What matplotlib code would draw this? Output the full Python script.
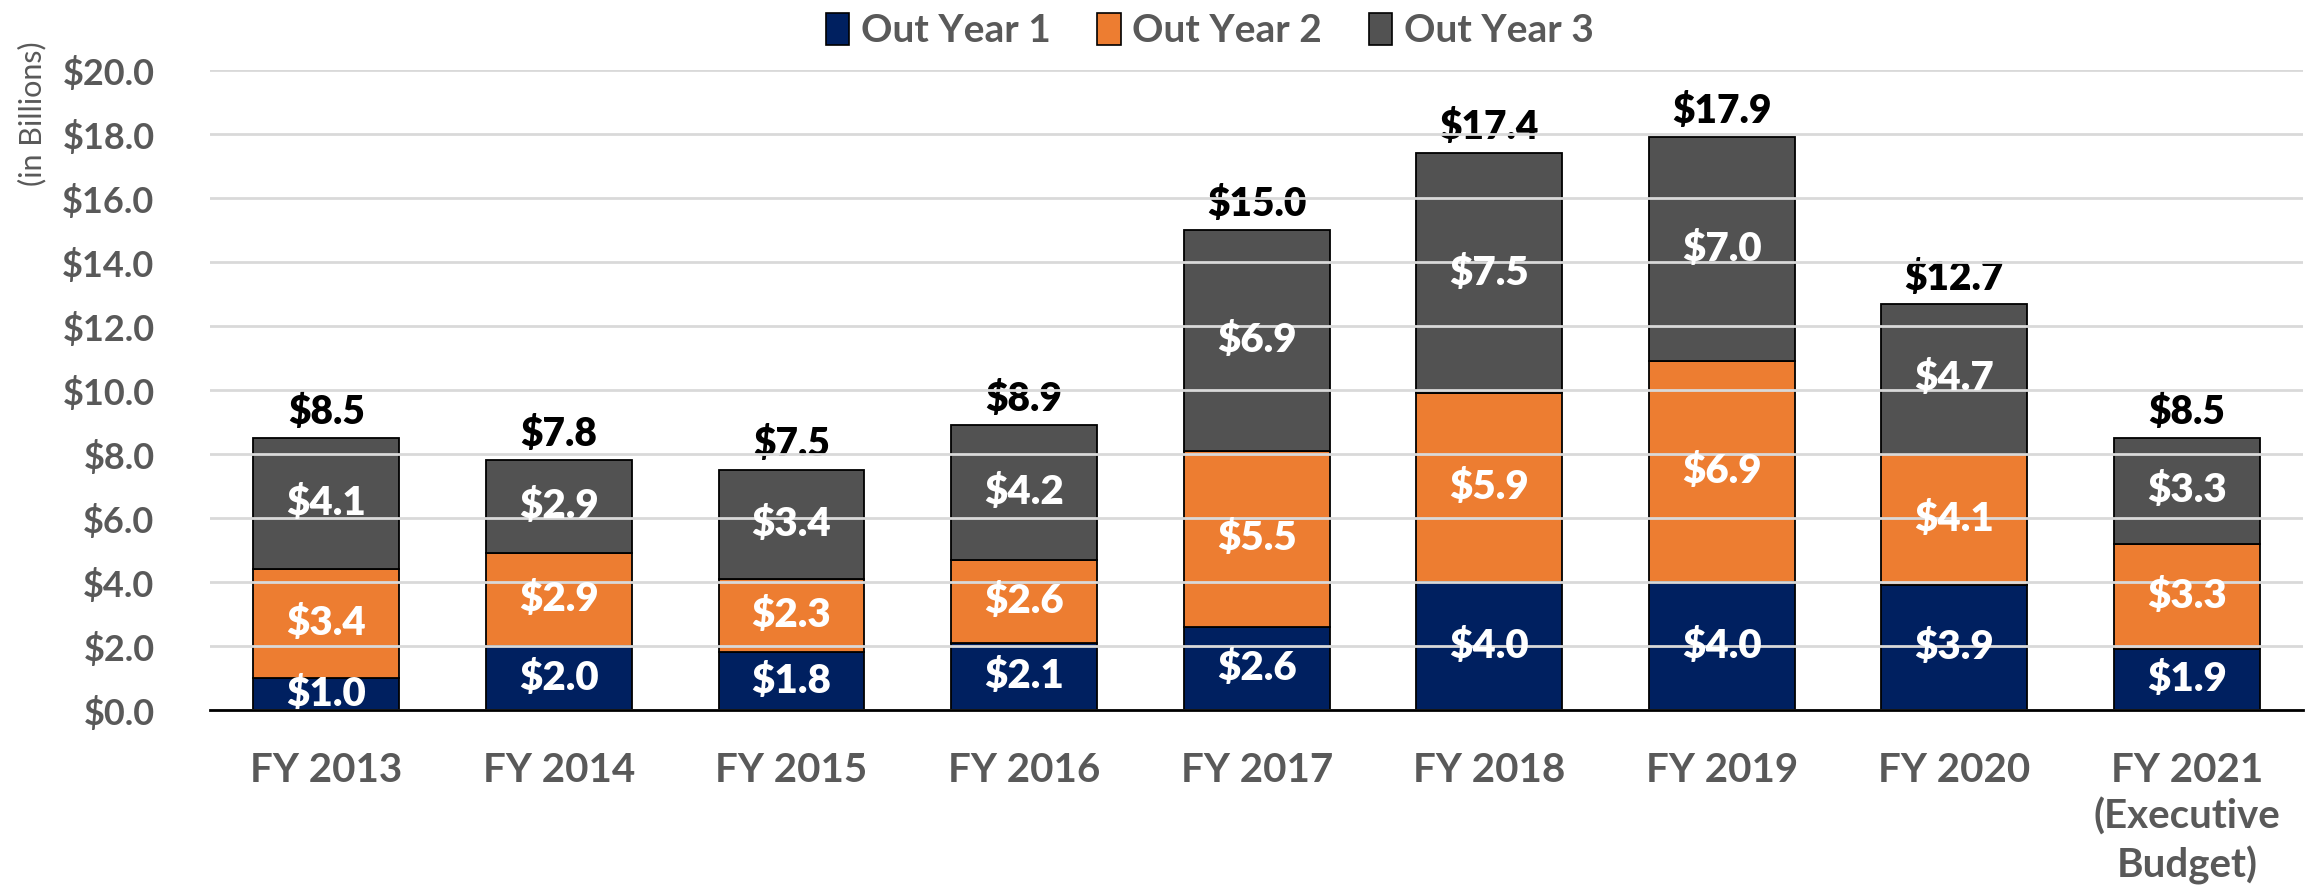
import matplotlib
matplotlib.use("Agg")
import matplotlib.pyplot as plt
from matplotlib.patches import Patch
import numpy as np

plt.rcParams['font.family'] = ['Lato', 'DejaVu Sans']

categories = ["FY 2013", "FY 2014", "FY 2015", "FY 2016", "FY 2017",
              "FY 2018", "FY 2019", "FY 2020", "FY 2021\n(Executive\nBudget)"]
out_year_1 = [1.0, 2.0, 1.8, 2.1, 2.6, 4.0, 4.0, 3.9, 1.9]
out_year_2 = [3.4, 2.9, 2.3, 2.6, 5.5, 5.9, 6.9, 4.1, 3.3]
out_year_3 = [4.1, 2.9, 3.4, 4.2, 6.9, 7.5, 7.0, 4.7, 3.3]
totals = [8.5, 7.8, 7.5, 8.9, 15.0, 17.4, 17.9, 12.7, 8.5]
series_names = ["Out Year 1", "Out Year 2", "Out Year 3"]
yticks = [0, 2, 4, 6, 8, 10, 12, 14, 16, 18, 20]

colors = ["#002060", "#ED7D31", "#525252"]
grey_text = "#595959"

fig = plt.figure(figsize=(23.13, 8.85), dpi=100)
ax = fig.add_axes([0.0908, 0.1977, 0.905, 0.7232])

x = np.arange(len(categories))
width = 0.627
bottom = np.zeros(len(categories))
for vals, col, name in zip([out_year_1, out_year_2, out_year_3], colors, series_names):
    vals = np.array(vals)
    ax.bar(x, vals, width, bottom=bottom, color=col, edgecolor="black",
           linewidth=1.3, zorder=2, label=name)
    for xi, b, v in zip(x, bottom, vals):
        ax.text(xi, b + v / 2, f"${v:.1f}", ha="center", va="center",
                color="white", fontsize=29, fontweight="heavy", zorder=3)
    bottom = bottom + vals

for xi, t, top in zip(x, totals, bottom):
    ax.annotate(f"${t:.1f}", (xi, top), xytext=(0, 5), textcoords="offset points",
                ha="center", va="bottom", fontsize=28, fontweight="heavy",
                color="black", zorder=1)

ax.set_xlim(-0.5, len(categories) - 0.5)
ax.set_ylim(0, 20)
ax.set_yticks(yticks)
ax.set_yticklabels([f"${v:.1f}" for v in yticks])
ax.yaxis.grid(True, color="#D9D9D9", linewidth=2)
ax.set_axisbelow(False)
for line in ax.get_ygridlines():
    line.set_zorder(1.5)

ax.set_xticks(x)
ax.set_xticklabels(categories, linespacing=1.3)
for lab in ax.get_xticklabels():
    lab.set_fontsize(29)
    lab.set_fontweight("bold")
    lab.set_color(grey_text)
    lab.set_va("top")
for lab in ax.get_yticklabels():
    lab.set_fontsize(26)
    lab.set_fontweight("bold")
    lab.set_color(grey_text)

ax.tick_params(axis="x", length=0, pad=30)
ax.tick_params(axis="y", length=0, pad=40)
for s in ["top", "right", "left"]:
    ax.spines[s].set_visible(False)
ax.spines["bottom"].set_color("black")
ax.spines["bottom"].set_linewidth(2)
ax.spines["bottom"].set_zorder(4)

fig.text(0.014, 0.872, "(in Billions)", rotation=90, ha="center", va="center",
         fontsize=22, color=grey_text)

handles = [Patch(facecolor=c, edgecolor="black", linewidth=1.2) for c in colors]
fig.legend(handles, series_names, loc="upper center", bbox_to_anchor=(0.523, 1.025),
           ncol=3, frameon=False, handlelength=0.6, handleheight=0.9,
           handletextpad=0.3, columnspacing=1.2,
           prop={"weight": "bold", "size": 28})
for t in fig.legends[0].get_texts():
    t.set_color(grey_text)

fig.savefig("out.png", dpi=100)
